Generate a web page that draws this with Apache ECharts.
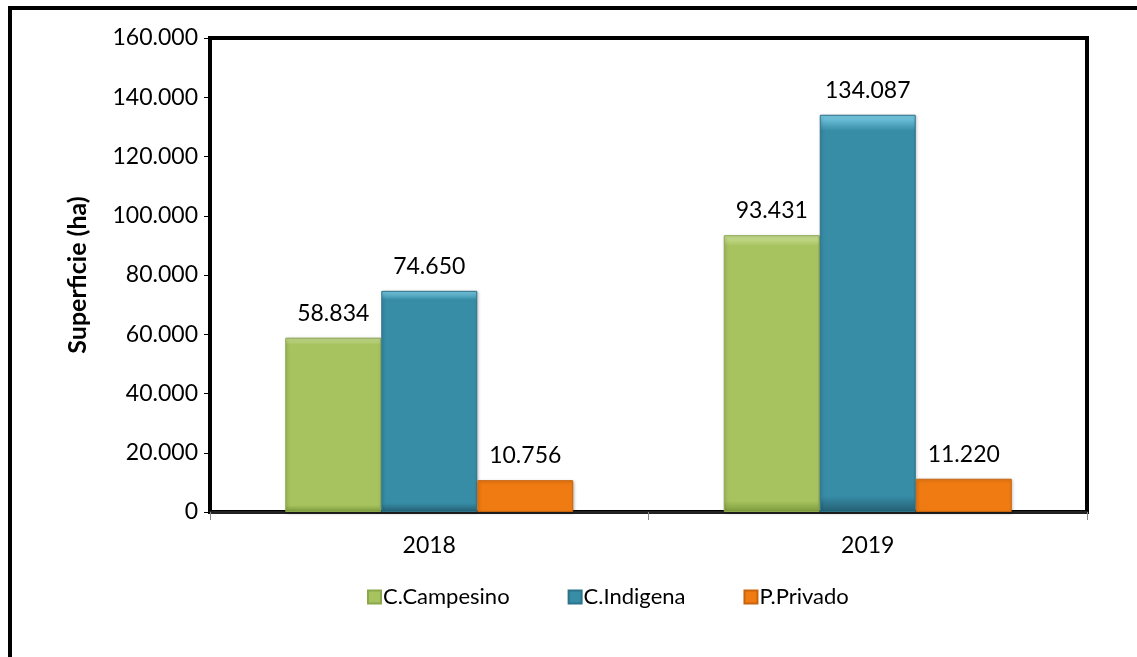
<!DOCTYPE html>
<html>
<head>
<meta charset="utf-8">
<script src="https://cdn.jsdelivr.net/npm/echarts@6/dist/echarts.min.js"></script>
<style>
  html, body { margin: 0; padding: 0; background: #fff; }
  #chart { width: 1137px; height: 657px; }
</style>
</head>
<body>
<div id="chart"></div>
<script>
  var years = ['2018', '2019'];
  var campesino = [58834, 93431];
  var indigena = [74650, 134087];
  var privado = [10756, 11220];
  var yTicks = [0, 20000, 40000, 60000, 80000, 100000, 120000, 140000, 160000];

  function fmt(v) {
    return String(v).replace(/\B(?=(\d{3})+(?!\d))/g, '.');
  }

  var font = 'Lato, "Open Sans", sans-serif';

  function barSeries(name, data, color, border) {
    return {
      name: name,
      type: 'bar',
      data: data,
      barWidth: 96,
      barGap: '0%',
      itemStyle: {
        color: {
          type: 'linear', x: 0, y: 0, x2: 0, y2: 1,
          colorStops: [
            { offset: 0, color: color[0] },
            { offset: 0.04, color: color[1] },
            { offset: 0.96, color: color[1] },
            { offset: 1, color: color[2] }
          ]
        },
        borderColor: border,
        borderWidth: 1,
        shadowColor: 'rgba(0,0,0,0.25)',
        shadowBlur: 3,
        shadowOffsetX: 1,
        shadowOffsetY: 1
      },
      label: {
        show: true,
        position: 'top',
        distance: 13,
        color: '#000',
        fontFamily: font,
        fontSize: 23,
        formatter: function (p) { return fmt(p.value); }
      }
    };
  }

  var chart = echarts.init(document.getElementById('chart'));
  chart.setOption({
    backgroundColor: '#fff',
    animation: false,
    graphic: [{
      type: 'rect',
      shape: { x: 10, y: 8, width: 1160, height: 700 },
      style: { fill: 'none', stroke: '#000', lineWidth: 4 },
      silent: true
    }],
    grid: {
      left: 210, top: 38, right: 50, bottom: 145,
      show: true,
      borderColor: '#000',
      borderWidth: 4,
      backgroundColor: '#fff'
    },
    legend: {
      bottom: 44,
      left: 362,
      itemWidth: 13,
      itemHeight: 13,
      itemGap: 58,
      icon: 'rect',
      textStyle: { fontFamily: font, fontSize: 22, color: '#000', padding: [0, 0, 0, -3] },
      data: ['C.Campesino', 'C.Indigena', 'P.Privado']
    },
    xAxis: {
      type: 'category',
      data: years,
      axisLine: { show: true, lineStyle: { color: '#222', width: 3 } },
      axisTick: { show: true, length: 8, lineStyle: { color: '#888', width: 1 } },
      axisLabel: { color: '#000', fontFamily: font, fontSize: 23, margin: 22 }
    },
    yAxis: {
      type: 'value',
      min: yTicks[0],
      max: yTicks[yTicks.length - 1],
      interval: 20000,
      name: 'Superficie (ha)',
      nameLocation: 'middle',
      nameGap: 120,
      nameRotate: 90,
      nameTextStyle: { fontFamily: font, fontSize: 25, fontWeight: 'bold', color: '#000' },
      splitLine: { show: false },
      axisLine: { show: true, lineStyle: { color: '#000', width: 4 } },
      axisTick: { show: true, length: 6, lineStyle: { color: '#000', width: 1 } },
      axisLabel: {
        color: '#000', fontFamily: font, fontSize: 23, margin: 12,
        formatter: function (v) { return fmt(v); }
      }
    },
    series: [
      barSeries('C.Campesino', campesino, ['#cfe29a', '#a6c35f', '#7d9a3c'], '#8aa84a'),
      barSeries('C.Indigena', indigena, ['#7fd0ea', '#378ca6', '#245f72'], '#2c7389'),
      barSeries('P.Privado', privado, ['#ffb45a', '#f07b12', '#b85808'], '#c8640c')
    ]
  });
</script>
</body>
</html>
